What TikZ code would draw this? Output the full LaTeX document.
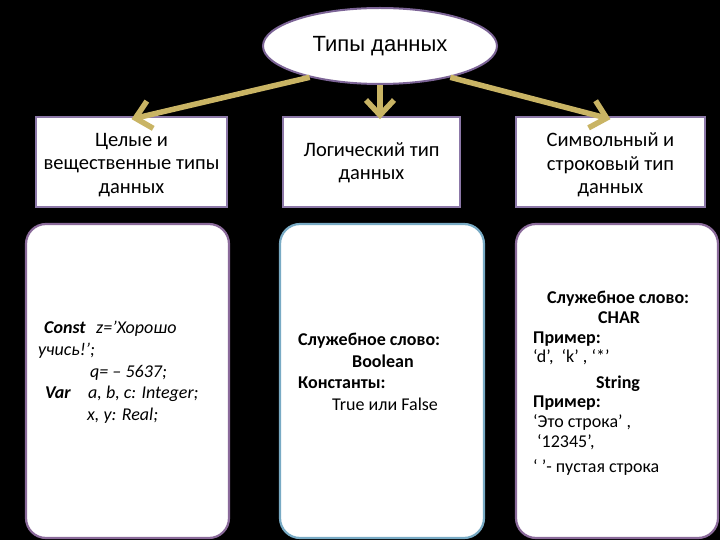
\documentclass[tikz,border=0pt]{standalone}
\usepackage{fontspec}
\setmainfont{Carlito}
\newfontfamily\titlefont{Liberation Sans}
\usetikzlibrary{shapes.geometric,arrows.meta}
\definecolor{boxpurple}{RGB}{140,120,168}
\definecolor{ellpurple}{RGB}{124,100,150}
\definecolor{cardpurple}{RGB}{138,106,154}
\definecolor{cardblue}{RGB}{120,170,196}
\definecolor{arrowgold}{RGB}{201,180,100}
\begin{document}
\begin{tikzpicture}[x=1pt,y=-1pt,
  topbox/.style={draw=boxpurple, line width=1.8pt, fill=white, minimum height=90pt, inner sep=0pt},
  toptext/.style={inner sep=0pt, align=center, font=\fontsize{20.5}{23.5}\selectfont},
  card/.style={draw=#1, line width=2.2pt, fill=white, rounded corners=20pt, inner sep=0pt},
  txt/.style={anchor=base west, inner sep=0pt, font=\fontsize{18}{21}\selectfont},
  btx/.style={txt, font=\fontsize{18}{21}\selectfont\bfseries},
  itx/.style={txt, font=\fontsize{18}{21}\selectfont\itshape},
  bitx/.style={txt, font=\fontsize{18}{21}\selectfont\bfseries\itshape},
  arr/.style={draw=arrowgold, line width=5.5pt, -{Straight Barb[length=15pt,width=28pt,line width=5.5pt]}}
]
\fill[black] (0,0) rectangle (720,540);
\useasboundingbox (0,0) rectangle (720,540);

% title ellipse
\node[ellipse, draw=ellpurple, line width=2pt, fill=white, minimum width=234pt, minimum height=76pt, inner sep=0pt, font=\titlefont\fontsize{22}{26}\selectfont] (ell) at (380,46) {Типы данных};

% top boxes
\node[topbox, minimum width=191pt] (lbox) at (131.5,162) {};
\node[topbox, minimum width=177pt] (mbox) at (371.5,162) {};
\node[topbox, minimum width=189pt] (rbox) at (610.5,162) {};
\node[toptext] (ltext) at (131.5,165) {Целые и\\вещественные типы\\данных};
\node[toptext] (mtext) at (371.5,163) {Логический тип\\данных};
\node[toptext] (rtext) at (610.5,165) {Символьный и\\строковый тип\\данных};

% arrows
\draw[arr] (ell.204) -- ([yshift=-3pt]lbox.north);
\draw[arr] (ell.south) -- ([yshift=-3pt]ell.south |- mbox.north);
\draw[arr] (ell.-24) -- ([yshift=-3pt]rbox.north);

% bottom cards
\node[card=cardpurple, minimum width=203pt, minimum height=314pt] (lcard) at (127.5,381) {};
\node[card=cardblue, minimum width=204pt, minimum height=314pt] (mcard) at (382,381) {};
\node[card=cardpurple, minimum width=202pt, minimum height=314pt] (rcard) at (617,381) {};

% left card text
\node[bitx] (l1a) at (44,333) {Const};
\node[itx] (l1b) at (96,333) {z=’Хорошо};
\node[itx] (l2) at (38,355) {учись!’;};
\node[itx] (l3) at (90,377) {q= – 5637;};
\node[bitx] (l4a) at (45,398) {Var};
\node[itx] (l4b) at (88,398) {a, b, c: Integer;};
\node[itx] (l5) at (87,420) {x, y: Real;};

% middle card text
\node[btx] (m1) at (298,345) {Служебное слово:};
\node[btx] (m2) at (352,367) {Boolean};
\node[btx] (m3) at (298,388) {Константы:};
\node[txt] (m4) at (332,410) {True или False};

% right card text
\node[btx] (r1) at (547,303) {Служебное слово:};
\node[btx] (r2) at (598,323) {CHAR};
\node[btx] (r3) at (533,343) {Пример:};
\node[txt] (r4) at (533,362) {‘d’,~ ‘k’ , ‘*’};
\node[btx] (r5) at (596,388) {String};
\node[btx] (r6) at (533,407) {Пример:};
\node[txt] (r7) at (533,427) {‘Это строка’ ,};
\node[txt] (r8) at (537,447) {‘12345’,};
\node[txt] (r9) at (533,472) {‘ ’- пустая строка};
\end{tikzpicture}
\end{document}
